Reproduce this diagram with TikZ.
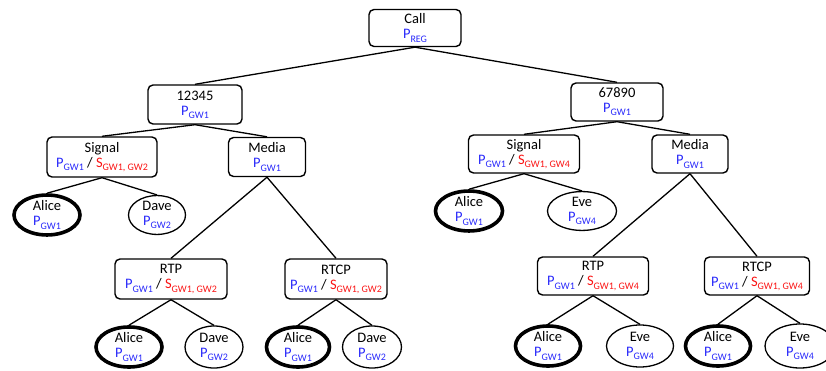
\documentclass[tikz,border=0pt]{standalone}
\usepackage{fontspec}
\setmainfont{Carlito}
\usetikzlibrary{shapes.geometric}
\definecolor{pblue}{RGB}{40,40,250}
\definecolor{sred}{RGB}{250,20,20}
\newcommand\lsub[1]{\raisebox{-0.45ex}{\fontsize{10}{10}\selectfont #1}}
\newcommand\pLab[1]{\textcolor{pblue}{P\lsub{#1}}}
\newcommand\sLab[1]{\textcolor{sred}{S\lsub{#1}}}
\begin{document}
\begin{tikzpicture}[x=1pt,y=-1pt,
  every node/.style={font=\fontsize{14.5}{15}\selectfont, align=center, inner sep=0pt},
  boxnode/.style={draw, line width=1.4pt, rounded corners=5pt, rectangle},
  leaf/.style={draw, line width=1.3pt, ellipse},
  bold leaf/.style={draw, line width=3.6pt, ellipse},
  link/.style={line width=1.3pt}]
\useasboundingbox (0,0) rectangle (826,371);
% boxes
\node[boxnode, minimum width=92pt, minimum height=37pt] (call) at (415,28) {Call\\\pLab{REG}};
\node[boxnode, minimum width=94pt, minimum height=39pt] (a) at (195,104.5) {12345\\\pLab{GW1}};
\node[boxnode, minimum width=92pt, minimum height=38pt] (b) at (617,102) {67890\\\pLab{GW1}};
\node[boxnode, minimum width=110pt, minimum height=40pt] (sigL) at (102,157) {Signal\\\pLab{GW1} / \sLab{GW1, GW2}};
\node[boxnode, minimum width=77pt, minimum height=39pt] (medL) at (267,157) {Media\\\pLab{GW1}};
\node[boxnode, minimum width=111pt, minimum height=38pt] (sigR) at (524,154) {Signal\\\pLab{GW1} / \sLab{GW1, GW4}};
\node[boxnode, minimum width=76pt, minimum height=38pt] (medR) at (690,154) {Media\\\pLab{GW1}};
\node[boxnode, minimum width=112pt, minimum height=40pt] (rtpL) at (171,279) {RTP\\\pLab{GW1} / \sLab{GW1, GW2}};
\node[boxnode, minimum width=102pt, minimum height=40pt] (rtcpL) at (336,279) {RTCP\\\pLab{GW1} / \sLab{GW1, GW2}};
\node[boxnode, minimum width=111pt, minimum height=38pt] (rtpR) at (593,276) {RTP\\\pLab{GW1} / \sLab{GW1, GW4}};
\node[boxnode, minimum width=105pt, minimum height=38pt] (rtcpR) at (757,276) {RTCP\\\pLab{GW1} / \sLab{GW1, GW4}};
% leaves
\node[bold leaf, minimum width=66pt, minimum height=34pt] (al1) at (47,215) {Alice\\\pLab{GW1}};
\node[leaf, minimum width=57pt, minimum height=36pt] (dv1) at (157,215) {Dave\\\pLab{GW2}};
\node[bold leaf, minimum width=67pt, minimum height=34pt] (al2) at (469,211) {Alice\\\pLab{GW1}};
\node[leaf, minimum width=69pt, minimum height=36pt] (ev2) at (582,211) {Eve\\\pLab{GW4}};
\node[bold leaf, minimum width=66pt, minimum height=40pt] (al3) at (129,347) {Alice\\\pLab{GW1}};
\node[leaf, minimum width=58pt, minimum height=42pt] (dv3) at (214,347) {Dave\\\pLab{GW2}};
\node[bold leaf, minimum width=63pt, minimum height=40pt] (al4) at (298,347) {Alice\\\pLab{GW1}};
\node[leaf, minimum width=59pt, minimum height=42pt] (dv4) at (372,347) {Dave\\\pLab{GW2}};
\node[bold leaf, minimum width=65pt, minimum height=40pt] (al5) at (548,346) {Alice\\\pLab{GW1}};
\node[leaf, minimum width=67pt, minimum height=42pt] (ev5) at (640,346) {Eve\\\pLab{GW4}};
\node[bold leaf, minimum width=65pt, minimum height=40pt] (al6) at (718,346) {Alice\\\pLab{GW1}};
\node[leaf, minimum width=70pt, minimum height=44pt] (ev6) at (800,346) {Eve\\\pLab{GW4}};
% links
\draw[link] (call.south) -- (a.north);
\draw[link] (call.south) -- (b.north);
\draw[link] (a.south) -- (sigL.north);
\draw[link] (a.south) -- (medL.north);
\draw[link] (b.south) -- (sigR.north);
\draw[link] (b.south) -- (medR.north);
\draw[link] (sigL.south) -- (al1.north);
\draw[link] (sigL.south) -- (dv1.north);
\draw[link] (sigR.south) -- (al2.north);
\draw[link] (sigR.south) -- (ev2.north);
\draw[link] (medL.south) -- (rtpL.north);
\draw[link] (medL.south) -- (rtcpL.north);
\draw[link] (medR.south) -- (rtpR.north);
\draw[link] (medR.south) -- (rtcpR.north);
\draw[link] (rtpL.south) -- (al3.north);
\draw[link] (rtpL.south) -- (dv3.north);
\draw[link] (rtcpL.south) -- (al4.north);
\draw[link] (rtcpL.south) -- (dv4.north);
\draw[link] (rtpR.south) -- (al5.north);
\draw[link] (rtpR.south) -- (ev5.north);
\draw[link] (rtcpR.south) -- (al6.north);
\draw[link] (rtcpR.south) -- (ev6.north);
\end{tikzpicture}
\end{document}
